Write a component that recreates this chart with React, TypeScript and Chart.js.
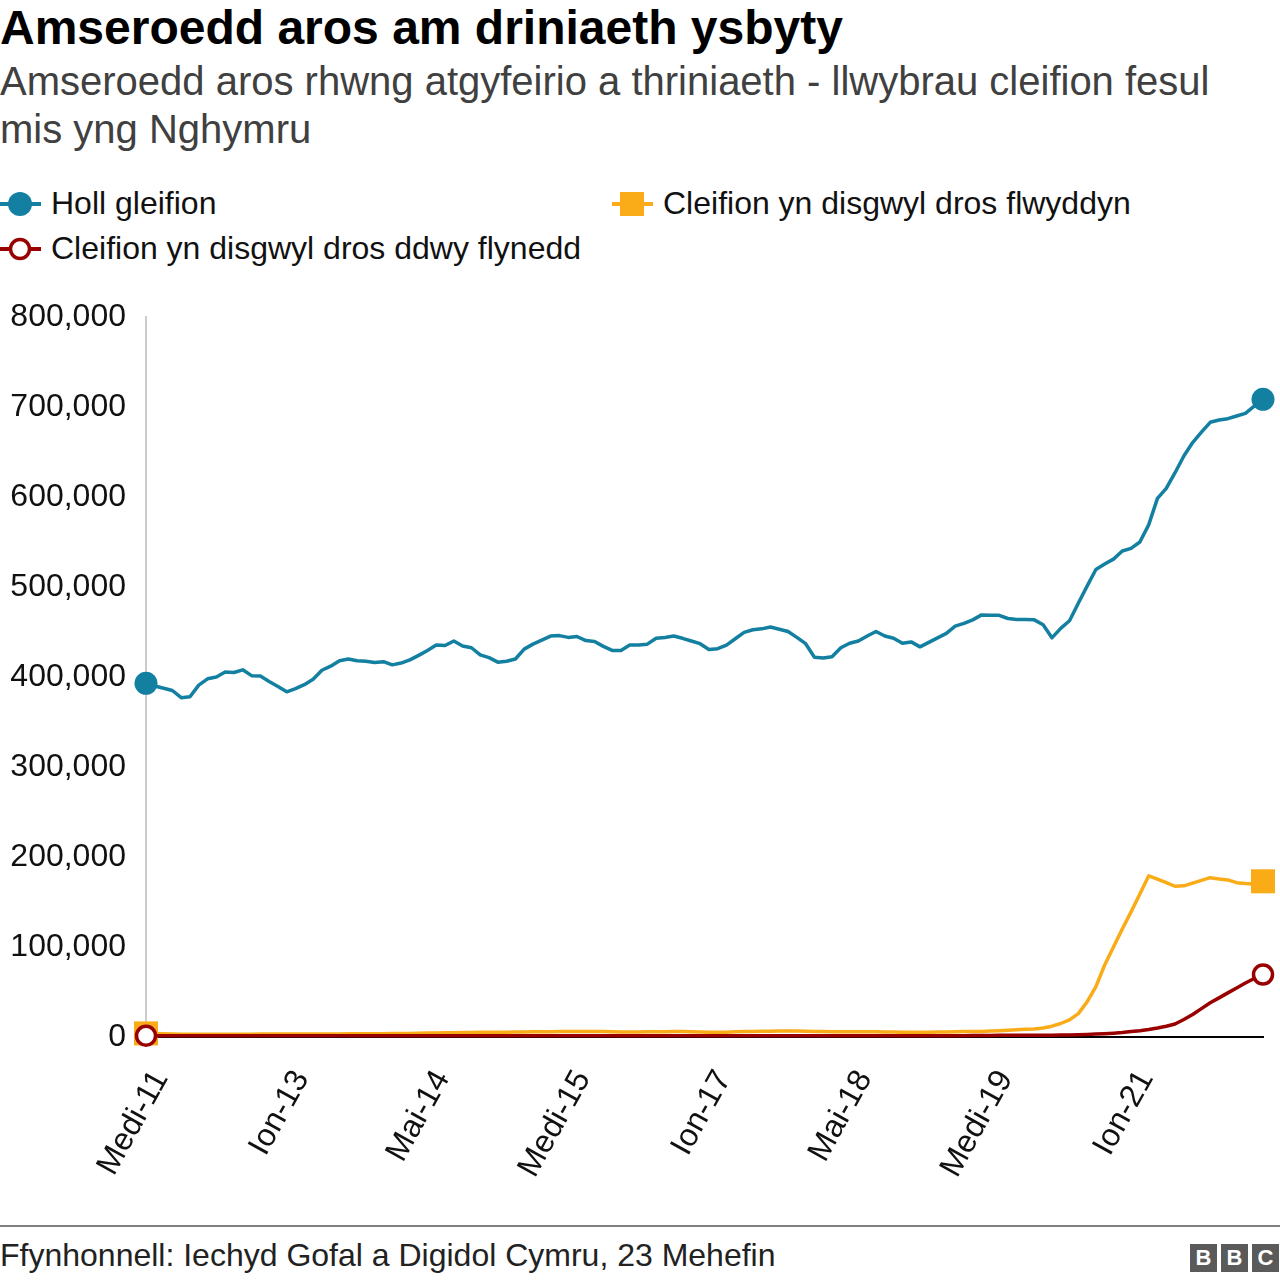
import React, { useEffect, useRef } from 'react';
import { Chart, registerables } from 'chart.js';

Chart.register(...registerables);

const FONT = '"Liberation Sans", Arial, Helvetica, sans-serif';
const BLUE = '#1380A1';
const ORANGE = '#FAAB18';
const RED = '#990000';

// Welsh month abbreviations; the series runs monthly from Medi 2011 (Sep 2011) to Ebr 2022
const monthNames = ['Ion', 'Chwef', 'Maw', 'Ebr', 'Mai', 'Meh', 'Gorff', 'Awst', 'Medi', 'Hyd', 'Tach', 'Rhag'];
const startYear = 2011;
const startMonthIndex = 8;
const monthCount = 128;
const categories: string[] = Array.from({ length: monthCount }, (_, i) => {
  const m = (startMonthIndex + i) % 12;
  const y = startYear + Math.floor((startMonthIndex + i) / 12);
  return `${monthNames[m]}-${String(y).slice(2)}`;
});
const tickEvery = 16;
const yTicks = [0, 100000, 200000, 300000, 400000, 500000, 600000, 700000, 800000];

const allPatients = [
  393000, 390000, 387500, 385000, 377000, 378000, 391000, 398000, 400000, 405500,
  405000, 408000, 401500, 401000, 395000, 389500, 383500, 387000, 391500, 397500,
  407500, 412000, 418000, 420000, 418000, 417500, 416000, 417000, 413500, 415500,
  419000, 424000, 429500, 435500, 435000, 440000, 434500, 432500, 424500, 421500,
  416500, 417500, 420000, 431000, 436500, 441000, 445500, 446000, 444000, 445000,
  440500, 439500, 434000, 429500, 429500, 435500, 435500, 436500, 443000, 444000,
  445500, 443000, 440000, 437000, 430500, 431500, 435500, 442500, 449500, 452500,
  453500, 455500, 453000, 450500, 444000, 437000, 422000, 421000, 422500, 432500,
  437500, 440000, 445500, 450500, 445500, 443000, 437500, 439000, 433500, 438500,
  443500, 448500, 456500, 459500, 463500, 469000, 468500, 468500, 465000, 464000,
  464000, 463500, 458000, 443500, 454000, 462500, 482000, 501000, 519500, 525500,
  531000, 540000, 543000, 550000, 569000, 598500, 609500, 627000, 645500, 660500,
  672000, 683000, 685500, 687000, 690000, 693000, 701000, 708500,
];

const overOneYear = [
  4000, 3800, 3500, 3200, 3000, 3000, 3000, 3000, 3000, 3000,
  3000, 3100, 3100, 3200, 3200, 3200, 3300, 3300, 3300, 3300,
  3400, 3400, 3400, 3500, 3500, 3500, 3600, 3700, 3800, 3900,
  4000, 4200, 4400, 4500, 4600, 4800, 5000, 5100, 5200, 5300,
  5400, 5400, 5500, 5600, 5700, 5800, 5900, 6000, 6000, 6100,
  6100, 6200, 6000, 5800, 5600, 5500, 5600, 5700, 5800, 5900,
  6000, 6000, 5800, 5500, 5300, 5200, 5400, 5800, 6000, 6200,
  6400, 6500, 6700, 6800, 6700, 6500, 6200, 6000, 5800, 5700,
  5700, 5800, 5800, 5700, 5600, 5500, 5400, 5300, 5300, 5400,
  5500, 5600, 5800, 6000, 6000, 6200, 6600, 7000, 7500, 8000,
  8500, 8800, 10000, 12000, 15000, 19000, 26000, 39000, 56000, 80000,
  100000, 120000, 139000, 159000, 179000, 175500, 171500, 167500, 168000, 171000,
  174000, 177000, 175500, 174500, 171500, 170500, 170000, 173000,
];

const overTwoYears = [
  1500, 1500, 1500, 1500, 1500, 1500, 1500, 1500, 1500, 1500,
  1500, 1500, 1500, 1500, 1500, 1500, 1500, 1500, 1500, 1500,
  1500, 1500, 1500, 1500, 1500, 1500, 1500, 1500, 1500, 1500,
  1500, 1500, 1500, 1500, 1500, 1500, 1500, 1500, 1500, 1500,
  1500, 1500, 1500, 1500, 1500, 1500, 1500, 1500, 1500, 1500,
  1500, 1500, 1500, 1500, 1500, 1500, 1500, 1500, 1500, 1500,
  1500, 1500, 1500, 1500, 1500, 1500, 1500, 1500, 1500, 1500,
  1500, 1500, 1500, 1500, 1500, 1500, 1500, 1500, 1500, 1500,
  1500, 1500, 1500, 1500, 1500, 1500, 1500, 1500, 1500, 1500,
  1500, 1500, 1500, 1500, 1600, 1700, 1800, 1900, 2000, 2000,
  2000, 2000, 2000, 2000, 2100, 2200, 2500, 2800, 3200, 3700,
  4300, 5000, 6000, 7000, 8300, 10000, 12000, 14500, 19500, 25000,
  31500, 38000, 43500, 49000, 54500, 60000, 65000, 69500,
];

const seriesLabels = ['Holl gleifion', 'Cleifion yn disgwyl dros flwyddyn', 'Cleifion yn disgwyl dros ddwy flynedd'];

const endpointRadius = (r: number) => (ctx: any) =>
  ctx.dataIndex === 0 || ctx.dataIndex === monthCount - 1 ? r : 0;

function LegendMarker({ kind }: { kind: 'circle' | 'square' | 'open' }) {
  const color = kind === 'circle' ? BLUE : kind === 'square' ? ORANGE : RED;
  return (
    <svg width={42} height={30} style={{ display: 'block', marginRight: 9 }}>
      <line x1={0} y1={15} x2={41} y2={15} stroke={color} strokeWidth={4} />
      {kind === 'circle' && <circle cx={20} cy={15} r={12} fill={color} />}
      {kind === 'square' && <rect x={8} y={3} width={24} height={24} fill={color} />}
      {kind === 'open' && <circle cx={20} cy={15} r={9.5} fill="#fff" stroke={color} strokeWidth={3.5} />}
    </svg>
  );
}

export default function App() {
  const canvasRef = useRef<HTMLCanvasElement | null>(null);

  useEffect(() => {
    if (!canvasRef.current) return;
    const chart = new Chart(canvasRef.current, {
      type: 'line',
      data: {
        labels: categories,
        datasets: [
          {
            label: seriesLabels[2],
            data: overTwoYears,
            borderColor: RED,
            backgroundColor: RED,
            borderWidth: 3.5,
            pointStyle: 'circle',
            pointRadius: endpointRadius(9.5) as any,
            pointBackgroundColor: '#ffffff',
            pointBorderColor: RED,
            pointBorderWidth: 3.5,
            order: 0,
            clip: false as any,
          },
          {
            label: seriesLabels[1],
            data: overOneYear,
            borderColor: ORANGE,
            backgroundColor: ORANGE,
            borderWidth: 3.5,
            pointStyle: 'rect',
            pointRadius: endpointRadius(17) as any,
            pointBackgroundColor: ORANGE,
            pointBorderColor: ORANGE,
            pointBorderWidth: 0,
            order: 1,
            clip: false as any,
          },
          {
            label: seriesLabels[0],
            data: allPatients,
            borderColor: BLUE,
            backgroundColor: BLUE,
            borderWidth: 3.5,
            pointStyle: 'circle',
            pointRadius: endpointRadius(11.5) as any,
            pointBackgroundColor: BLUE,
            pointBorderColor: BLUE,
            pointBorderWidth: 0,
            order: 2,
            clip: false as any,
          },
        ],
      },
      options: {
        responsive: false,
        animation: false,
        events: [],
        devicePixelRatio: 1,
        layout: { padding: { top: 27, right: 13, left: 0, bottom: 0 } },
        elements: { line: { tension: 0, borderJoinStyle: 'round', borderCapStyle: 'round' } },
        plugins: { legend: { display: false }, tooltip: { enabled: false }, title: { display: false } },
        scales: {
          x: {
            type: 'category',
            offset: false,
            grid: { display: false, drawTicks: false },
            border: { display: true, color: '#000000', width: 2 },
            ticks: {
              autoSkip: false,
              maxRotation: 61,
              minRotation: 61,
              padding: 27,
              labelOffset: 15,
              color: '#111111',
              font: { size: 32, family: FONT },
              callback: (_v: any, i: number) => (i % tickEvery === 0 ? categories[i] : null),
            },
            afterFit: (s: any) => {
              s.height = 153;
              s.paddingLeft = 0;
              s.paddingRight = 0;
            },
          },
          y: {
            min: 0,
            max: 800000,
            afterBuildTicks: (s: any) => {
              s.ticks = yTicks.map((v) => ({ value: v }));
            },
            grid: { display: false, drawTicks: false },
            border: { display: true, color: '#cccccc', width: 2 },
            ticks: {
              padding: 20,
              color: '#111111',
              font: { size: 32, family: FONT },
              callback: (v: any) => Number(v).toLocaleString('en-GB'),
            },
            afterFit: (s: any) => {
              s.width = 146;
              s.paddingTop = 0;
              s.paddingBottom = 0;
            },
          },
        },
      },
    });
    return () => chart.destroy();
  }, []);

  return (
    <div style={{ position: 'absolute', left: 0, top: 0, width: 1280, height: 1282, background: '#fff', fontFamily: FONT, overflow: 'hidden' }}>
      <div style={{ position: 'absolute', left: 0, top: 0, fontSize: 48, lineHeight: '56px', fontWeight: 700, color: '#000000', whiteSpace: 'nowrap' }}>
        Amseroedd aros am driniaeth ysbyty
      </div>
      <div style={{ position: 'absolute', left: 0, top: 57, width: 1250, fontSize: 40, lineHeight: '48px', color: '#404040' }}>
        Amseroedd aros rhwng atgyfeirio a thriniaeth - llwybrau cleifion fesul mis yng Nghymru
      </div>
      <div style={{ position: 'absolute', left: 0, top: 181, fontSize: 32, lineHeight: '45px', color: '#111111' }}>
        <div style={{ position: 'absolute', left: 0, top: 0, display: 'flex', alignItems: 'center', whiteSpace: 'nowrap' }}>
          <LegendMarker kind="circle" />
          <span>{seriesLabels[0]}</span>
        </div>
        <div style={{ position: 'absolute', left: 612, top: 0, display: 'flex', alignItems: 'center', whiteSpace: 'nowrap' }}>
          <LegendMarker kind="square" />
          <span>{seriesLabels[1]}</span>
        </div>
        <div style={{ position: 'absolute', left: 0, top: 45, display: 'flex', alignItems: 'center', whiteSpace: 'nowrap' }}>
          <LegendMarker kind="open" />
          <span>{seriesLabels[2]}</span>
        </div>
      </div>
      <canvas
        ref={canvasRef}
        width={1280}
        height={900}
        style={{ position: 'absolute', left: 0, top: 290, width: 1280, height: 900 }}
      />
      <div style={{ position: 'absolute', left: 0, top: 1225, width: 1280, height: 2, background: '#808080' }} />
      <div style={{ position: 'absolute', left: 0, top: 1235, fontSize: 32, lineHeight: '40px', color: '#222222', whiteSpace: 'nowrap' }}>
        Ffynhonnell: Iechyd Gofal a Digidol Cymru, 23 Mehefin
      </div>
      <div style={{ position: 'absolute', left: 1190, top: 1244, display: 'flex', gap: 4 }}>
        {['B', 'B', 'C'].map((l, i) => (
          <div
            key={i}
            style={{ width: 27, height: 28, background: '#5a5a5a', color: '#fff', fontWeight: 700, fontSize: 22, lineHeight: '28px', textAlign: 'center' }}
          >
            {l}
          </div>
        ))}
      </div>
    </div>
  );
}
